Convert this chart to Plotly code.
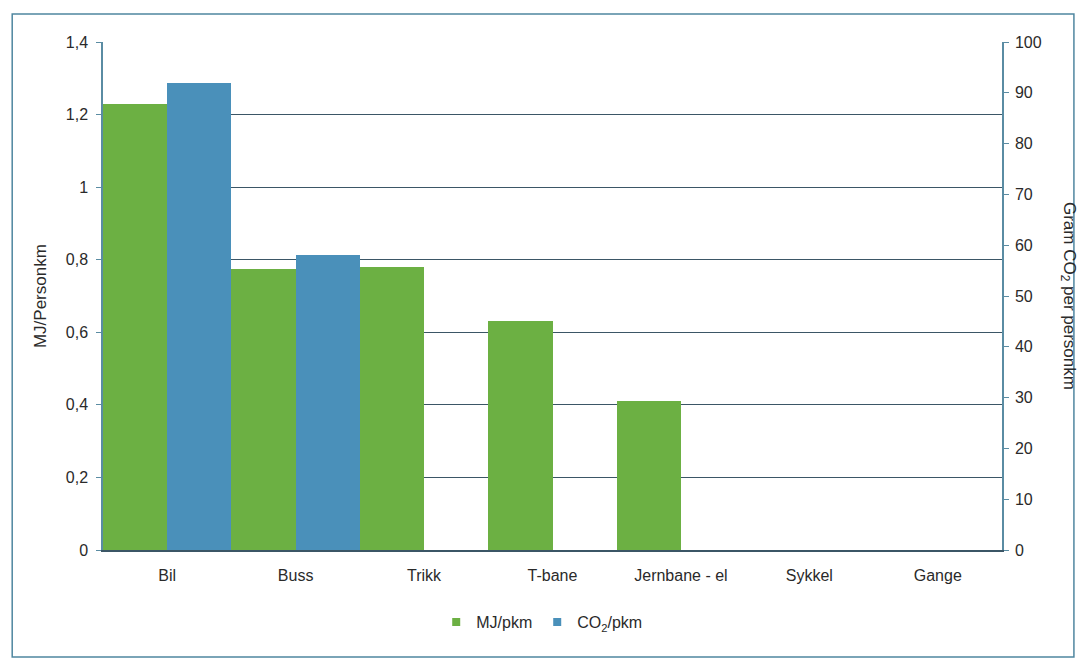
import plotly.graph_objects as go

categories = ["Bil", "Buss", "Trikk", "T-bane", "Jernbane - el", "Sykkel", "Gange"]
mj_pkm = [1.228, 0.775, 0.78, 0.63, 0.41, 0, 0]
co2_pkm = [92, 58, 0, 0, 0, 0, 0]
left_ticks = [0, 0.2, 0.4, 0.6, 0.8, 1.0, 1.2, 1.4]
left_labels = ["0", "0,2", "0,4", "0,6", "0,8", "1", "1,2", "1,4"]
right_ticks = [0, 10, 20, 30, 40, 50, 60, 70, 80, 90, 100]

GREEN = "#6cb043"
BLUE = "#4a90ba"
GRID = "#3b5666"
AXIS = "#5a8ca3"
FONT = "Liberation Sans, Arial, sans-serif"
TXT = "#2a2a2a"

fig = go.Figure()
fig.add_trace(go.Bar(x=categories, y=mj_pkm, name="MJ/pkm", marker_color=GREEN,
                     marker_line_width=0, width=0.5, offset=-0.5, yaxis="y",
                     showlegend=False))
fig.add_trace(go.Bar(x=categories, y=co2_pkm, name="CO<sub>2</sub>/pkm", marker_color=BLUE,
                     marker_line_width=0, width=0.5, offset=0.0, yaxis="y2",
                     showlegend=False))
# legend entries with small square markers
fig.add_trace(go.Scatter(x=[None], y=[None], mode="markers", name="MJ/pkm",
                         marker=dict(symbol="square", size=8, color=GREEN)))
fig.add_trace(go.Scatter(x=[None], y=[None], mode="markers", name="CO<sub>2</sub>/pkm",
                         marker=dict(symbol="square", size=8, color=BLUE)))

fig.update_layout(
    width=1081, height=659,
    margin=dict(l=103, r=79, t=42, b=109),
    paper_bgcolor="white", plot_bgcolor="white",
    font=dict(family=FONT, size=16, color=TXT),
    bargap=0, bargroupgap=0,
    showlegend=True,
    legend=dict(orientation="h", x=0.488, xanchor="center", y=-0.142, yanchor="middle",
                font=dict(size=16), itemwidth=30, traceorder="normal"),
    xaxis=dict(showline=True, linecolor=GRID, linewidth=1.5, ticks="", showgrid=False,
               tickfont=dict(size=16), range=[-0.5, 6.5], ticklabelstandoff=10),
    yaxis=dict(range=[0, 1.4], tickvals=left_ticks, ticktext=left_labels,
               showgrid=True, gridcolor=GRID, gridwidth=1.3, showline=True,
               linecolor=AXIS, linewidth=1.5, ticks="outside", ticklen=5,
               tickcolor=AXIS, zeroline=False, tickfont=dict(size=16),
               ticklabelstandoff=5),
    yaxis2=dict(range=[0, 100], tickvals=right_ticks, overlaying="y", side="right",
                showgrid=False, showline=True, linecolor=AXIS, linewidth=1.5,
                ticks="outside", ticklen=5, tickcolor=AXIS, zeroline=False,
                tickfont=dict(size=16), ticklabelstandoff=3),
    annotations=[
        dict(text="MJ/Personkm", xref="paper", yref="paper", x=-0.070, y=0.5,
             xanchor="center", yanchor="middle",
             textangle=-90, showarrow=False, font=dict(size=17)),
        dict(text="Gram CO<sub>2</sub> per personkm", xref="paper", yref="paper",
             x=1.0735, y=0.50, xanchor="center", yanchor="middle",
             textangle=90, showarrow=False, font=dict(size=17)),
    ],
    shapes=[
        dict(type="rect", xref="paper", yref="paper", x0=-0.101, x1=1.080,
             y0=-0.2106, y1=1.055, line=dict(color="#4f87a0", width=1.5), layer="below"),
    ],
)

fig.write_html("out.html")
